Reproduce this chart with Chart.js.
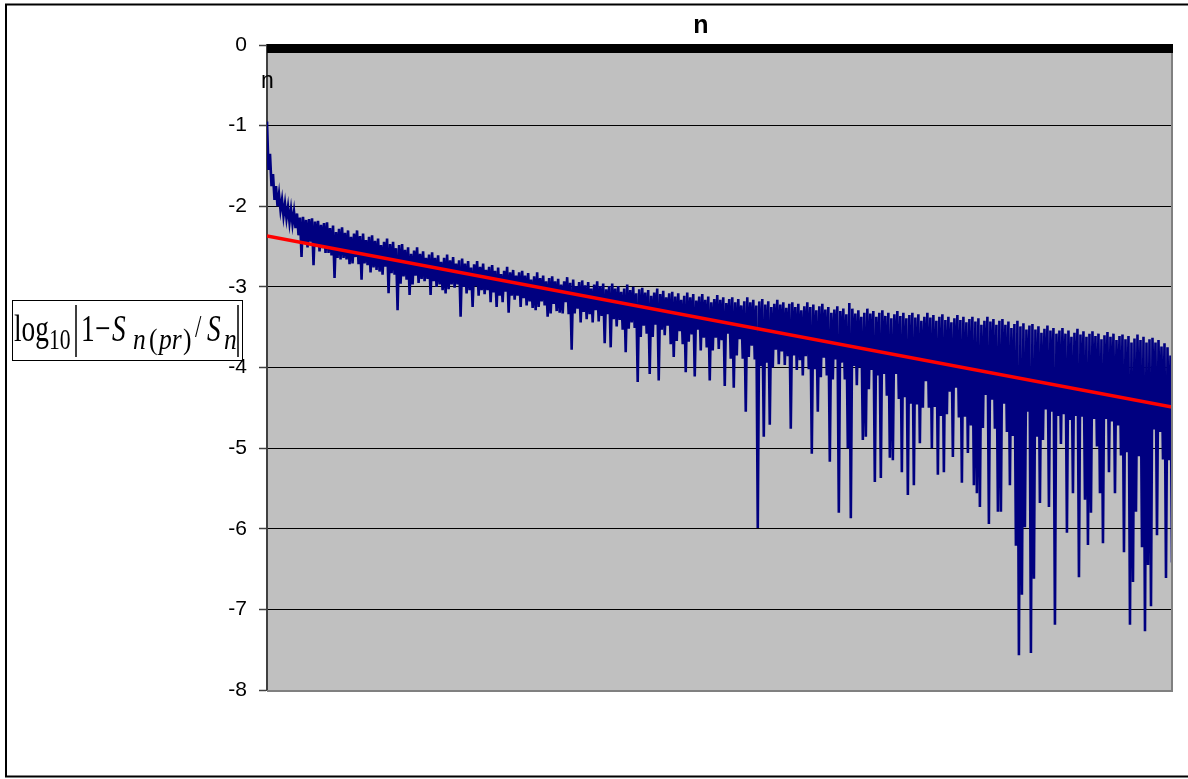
<!DOCTYPE html>
<html>
<head>
<meta charset="utf-8">
<script src="https://cdn.jsdelivr.net/npm/chart.js@4.4.1/dist/chart.umd.min.js"></script>
<style>
  html, body { margin: 0; padding: 0; background: #fff; }
  #wrap { width: 1188px; height: 779px; }
</style>
</head>
<body>
<div id="wrap"><canvas id="c" width="1188" height="779"></canvas></div>
<script>
// ---- data (log10 |1 - S_n(pr)/S_n| vs n) ----
// local maxima (upper values) of the oscillating series, left to right
const upperVals = [
  -0.95,-1.35,-1.60,-1.75,-1.85,-1.92,-1.97,-2.01,-2.04,-2.07,
  -2.09,-2.14,-2.13,-2.17,-2.16,-2.15,-2.19,-2.18,-2.23,-2.21,
  -2.20,-2.27,-2.24,-2.32,-2.28,-2.26,-2.33,-2.30,-2.38,-2.34,
  -2.30,-2.37,-2.34,-2.42,-2.38,-2.36,-2.43,-2.40,-2.48,-2.44,
  -2.40,-2.47,-2.44,-2.52,-2.48,-2.47,-2.54,-2.51,-2.59,-2.55,
  -2.51,-2.59,-2.56,-2.64,-2.60,-2.57,-2.64,-2.61,-2.69,-2.64,
  -2.60,-2.67,-2.63,-2.71,-2.67,-2.65,-2.71,-2.68,-2.76,-2.72,
  -2.68,-2.75,-2.71,-2.79,-2.75,-2.73,-2.80,-2.76,-2.84,-2.80,
  -2.75,-2.82,-2.79,-2.86,-2.82,-2.80,-2.86,-2.83,-2.91,-2.87,
  -2.82,-2.89,-2.86,-2.93,-2.89,-2.87,-2.93,-2.90,-2.97,-2.93,
  -2.88,-2.95,-2.91,-2.99,-2.94,-2.92,-2.98,-2.94,-3.02,-2.97,
  -2.93,-2.99,-2.96,-3.03,-2.99,-2.96,-3.02,-2.99,-3.06,-3.02,
  -2.97,-3.04,-3.00,-3.08,-3.03,-3.01,-3.07,-3.04,-3.11,-3.07,
  -3.02,-3.09,-3.05,-3.13,-3.08,-3.06,-3.12,-3.08,-3.16,-3.11,
  -3.07,-3.13,-3.09,-3.17,-3.12,-3.09,-3.16,-3.12,-3.19,-3.15,
  -3.10,-3.16,-3.13,-3.20,-3.15,-3.13,-3.19,-3.15,-3.23,-3.18,
  -3.13,-3.19,-3.16,-3.23,-3.18,-3.15,-3.22,-3.18,-3.25,-3.21,
  -3.16,-3.22,-3.19,-3.26,-3.21,-3.19,-3.25,-3.21,-3.29,-3.24,
  -3.19,-3.25,-3.22,-3.29,-3.24,-3.21,-3.28,-3.25,-3.32,-3.28,
  -3.24,-3.30,-3.27,-3.34,-3.20,-3.27,-3.33,-3.29,-3.37,-3.32,
  -3.27,-3.33,-3.30,-3.37,-3.32,-3.29,-3.36,-3.32,-3.39,-3.34,
  -3.30,-3.36,-3.32,-3.39,-3.35,-3.32,-3.38,-3.34,-3.42,-3.37,
  -3.32,-3.38,-3.35,-3.42,-3.37,-3.34,-3.41,-3.37,-3.44,-3.39,
  -3.35,-3.41,-3.37,-3.44,-3.40,-3.37,-3.43,-3.39,-3.47,-3.42,
  -3.37,-3.43,-3.40,-3.47,-3.42,-3.40,-3.47,-3.43,-3.51,-3.46,
  -3.42,-3.49,-3.45,-3.53,-3.48,-3.46,-3.53,-3.49,-3.57,-3.52,
  -3.48,-3.54,-3.51,-3.58,-3.54,-3.51,-3.58,-3.54,-3.62,-3.57,
  -3.52,-3.59,-3.55,-3.62,-3.58,-3.55,-3.61,-3.58,-3.65,-3.60,
  -3.56,-3.62,-3.58,-3.66,-3.61,-3.59,-3.65,-3.61,-3.69,-3.64,
  -3.59,-3.66,-3.62,-3.69,-3.65,-3.63,-3.69,-3.66,-3.74,-3.70,
  -3.75,-3.85
];
// local minima (lower values) of the oscillating series, left to right
const lowerVals = [
  -1.55,-1.75,-1.92,-2.00,-2.05,-2.12,-2.15,-2.20,-2.22,-2.27,
  -2.36,-2.63,-2.46,-2.51,-2.44,-2.73,-2.50,-2.56,-2.52,-2.58,
  -2.58,-2.61,-2.89,-2.64,-2.66,-2.64,-2.66,-2.72,-2.71,-2.63,
  -2.72,-2.91,-2.71,-2.73,-2.82,-2.76,-2.79,-2.81,-2.85,-2.75,
  -3.08,-2.83,-2.85,-3.29,-2.96,-2.87,-2.91,-3.10,-2.97,-2.86,
  -2.95,-2.90,-2.93,-2.90,-3.10,-2.93,-3.00,-2.97,-3.04,-3.08,
  -3.03,-2.97,-3.01,-2.97,-3.37,-3.00,-3.08,-3.04,-3.25,-2.99,
  -3.11,-3.04,-3.09,-3.04,-3.19,-3.07,-3.25,-3.11,-3.19,-3.06,
  -3.32,-3.11,-3.16,-3.11,-3.25,-3.14,-3.23,-3.18,-3.26,-3.29,
  -3.25,-3.18,-3.23,-3.37,-3.33,-3.21,-3.30,-3.32,-3.33,-3.19,
  -3.34,-3.78,-3.33,-3.27,-3.44,-3.31,-3.40,-3.34,-3.44,-3.29,
  -3.43,-3.36,-3.70,-3.34,-3.75,-3.40,-3.49,-3.41,-3.53,-3.81,
  -3.52,-3.44,-3.51,-4.18,-3.62,-3.48,-3.58,-4.08,-3.62,-3.47,
  -4.16,-3.53,-3.60,-3.48,-3.71,-3.87,-3.67,-3.55,-3.71,-4.06,
  -3.68,-3.59,-4.11,-3.53,-3.79,-3.63,-3.75,-4.16,-3.79,-3.63,
  -3.77,-3.66,-4.23,-3.58,-3.89,-4.25,-3.85,-3.65,-3.89,-4.55,
  -3.87,-3.73,-3.90,-5.99,-3.98,-4.86,-3.94,-4.71,-4.00,-3.78,
  -3.96,-3.80,-3.97,-3.86,-4.76,-3.85,-4.03,-3.91,-4.10,-3.86,
  -4.02,-5.07,-4.02,-4.55,-4.12,-3.88,-4.10,-5.17,-4.15,-3.90,
  -5.80,-3.94,-4.15,-5.00,-5.87,-3.98,-4.22,-4.00,-4.90,-4.86,
  -4.27,-4.03,-5.42,-4.10,-5.37,-4.08,-4.35,-5.12,-5.15,-4.08,
  -4.39,-5.30,-4.37,-5.58,-4.45,-5.46,-4.46,-4.94,-4.50,-4.17,
  -4.50,-5.00,-4.49,-5.33,-4.60,-5.30,-4.58,-4.30,-5.11,-4.25,
  -4.62,-5.43,-4.61,-5.06,-4.72,-5.46,-5.56,-5.73,-4.75,-4.34,
  -5.94,-4.40,-4.76,-5.79,-5.79,-4.45,-4.80,-5.46,-4.85,-6.21,
  -7.57,-6.82,-5.98,-4.55,-7.54,-6.62,-4.86,-5.68,-4.90,-4.52,
  -5.73,-4.55,-7.19,-4.60,-4.95,-4.58,-6.05,-4.65,-5.56,-4.60,
  -6.60,-4.61,-5.64,-6.20,-5.80,-4.64,-4.98,-5.56,-6.18,-4.64,
  -5.30,-4.67,-5.56,-4.72,-5.09,-6.29,-5.05,-7.19,-6.66,-5.79,
  -5.10,-6.23,-7.27,-6.45,-6.96,-4.77,-6.08,-4.80,-5.14,-6.61,
  -5.15,-6.42
];
// linear trend line: value at first n and at last n
const trendEnds = [-2.37, -4.49];
// y-axis tick labels
const yTicks = [0, -1, -2, -3, -4, -5, -6, -7, -8];
const axisTitle = 'n';

// ---- build the datasets from the arrays ----
const series = [];
for (let i = 0; i < upperVals.length; i++) {
  series.push({ x: series.length, y: upperVals[i] });
  series.push({ x: series.length, y: lowerVals[i] });
}
const lastN = series.length - 1;
const trend = [{ x: 0, y: trendEnds[0] }, { x: lastN, y: trendEnds[1] }];

function piece(ctx, text, x, y, size, italic, sx) {
  ctx.save();
  ctx.translate(x, y);
  ctx.scale(sx, 1);
  ctx.font = (italic ? 'italic ' : '') + size + 'px "Liberation Serif", "Times New Roman", serif';
  ctx.textAlign = 'left';
  ctx.textBaseline = 'alphabetic';
  ctx.fillStyle = '#000';
  ctx.fillText(text, 0, 0);
  ctx.restore();
}

const decor = {
  id: 'decor',
  beforeDraw(chart) {
    const { ctx, chartArea: a } = chart;
    ctx.save();
    ctx.fillStyle = '#fff';
    ctx.fillRect(0, 0, chart.width, chart.height);
    ctx.fillStyle = '#C0C0C0';
    ctx.fillRect(a.left, a.top, a.right - a.left, a.bottom - a.top);
    ctx.restore();
  },
  afterDraw(chart) {
    const { ctx, chartArea: a } = chart;
    const xs = chart.scales.x;
    ctx.save();
    // right & bottom plot-area border
    ctx.strokeStyle = '#808080';
    ctx.lineWidth = 2;
    ctx.beginPath();
    ctx.moveTo(a.right, a.top);
    ctx.lineTo(a.right, a.bottom + 1);
    ctx.lineTo(a.left, a.bottom + 1);
    ctx.stroke();
    // top category axis: one tick per half step, forming the dense band
    ctx.strokeStyle = '#000';
    ctx.lineWidth = 1;
    ctx.beginPath();
    for (let k = 0; k <= lastN; k += 0.5) {
      const px = Math.round(xs.getPixelForValue(k)) + 0.5;
      ctx.moveTo(px, a.top - 1);
      ctx.lineTo(px, a.top + 8);
    }
    ctx.stroke();
    ctx.lineWidth = 2;
    ctx.beginPath();
    ctx.moveTo(a.left, a.top);
    ctx.lineTo(a.right, a.top);
    ctx.stroke();
    // outer frame
    ctx.strokeStyle = '#000';
    ctx.lineWidth = 2;
    ctx.strokeRect(6, 4.5, 1190, 772);
    // axis title
    ctx.fillStyle = '#000';
    ctx.textAlign = 'center';
    ctx.textBaseline = 'alphabetic';
    ctx.font = 'bold 25px "Liberation Sans", Arial, sans-serif';
    ctx.fillText(axisTitle, 701, 33);
    // small "n" label inside the plot
    ctx.textAlign = 'left';
    ctx.font = '23px "Liberation Sans", Arial, sans-serif';
    ctx.fillText(axisTitle, a.left - 6, 88);
    // y-axis title: boxed formula
    ctx.lineWidth = 1;
    ctx.strokeRect(12.5, 300.5, 230, 60);
    const bM = 341, bS = 349, mS = 38, sS = 30, mx = 0.72, sx = 0.85;
    piece(ctx, 'log', 14, bM, mS, false, mx);
    piece(ctx, '10', 49, bS, sS, false, 0.72);
    piece(ctx, '1', 81, bM, mS, false, mx);
    piece(ctx, '\u2212', 95, bM, mS, false, mx);
    piece(ctx, 'S', 112, bM, mS, true, mx);
    piece(ctx, 'n', 133, bS, sS, true, sx);
    piece(ctx, '(', 149, bS, sS, false, sx);
    piece(ctx, 'pr', 159, bS, sS, true, sx);
    piece(ctx, ')', 183, bS, sS, false, sx);
    piece(ctx, '/', 195, bM - 4, 32, false, mx);
    piece(ctx, 'S', 207, bM, mS, true, mx);
    piece(ctx, 'n', 224, bS, sS, true, sx);
    ctx.lineWidth = 1.5;
    ctx.beginPath();
    ctx.moveTo(76, 305); ctx.lineTo(76, 357);
    ctx.moveTo(238, 305); ctx.lineTo(238, 357);
    ctx.stroke();
    ctx.restore();
  }
};

new Chart(document.getElementById('c'), {
  type: 'line',
  data: {
    datasets: [
      {
        label: 'trend',
        data: trend,
        borderColor: '#FF0000',
        borderWidth: 3.5,
        pointRadius: 0,
        tension: 0,
        order: 0
      },
      {
        label: 'log10|1-Sn(pr)/Sn|',
        data: series,
        borderColor: '#000080',
        borderWidth: 2.6,
        pointRadius: 0,
        tension: 0,
        order: 1
      }
    ]
  },
  options: {
    responsive: false,
    animation: false,
    devicePixelRatio: 1,
    layout: { padding: { left: 0, top: 45, right: 16, bottom: 89 } },
    plugins: { legend: { display: false }, tooltip: { enabled: false }, title: { display: false } },
    scales: {
      x: {
        type: 'linear',
        display: false,
        min: 0,
        max: lastN
      },
      y: {
        type: 'linear',
        min: -8,
        max: 0,
        afterFit(s) { s.width = 267; },
        afterBuildTicks(s) { s.ticks = yTicks.map(v => ({ value: v })); },
        ticks: {
          color: '#000',
          padding: 12,
          font: { family: '"Liberation Sans", Arial, sans-serif', size: 21 }
        },
        grid: { color: '#000', lineWidth: 1, tickLength: 8, tickColor: '#404040', tickWidth: 1.5 },
        border: { display: true, color: '#404040', width: 2 }
      }
    }
  },
  plugins: [decor]
});
</script>
</body>
</html>
